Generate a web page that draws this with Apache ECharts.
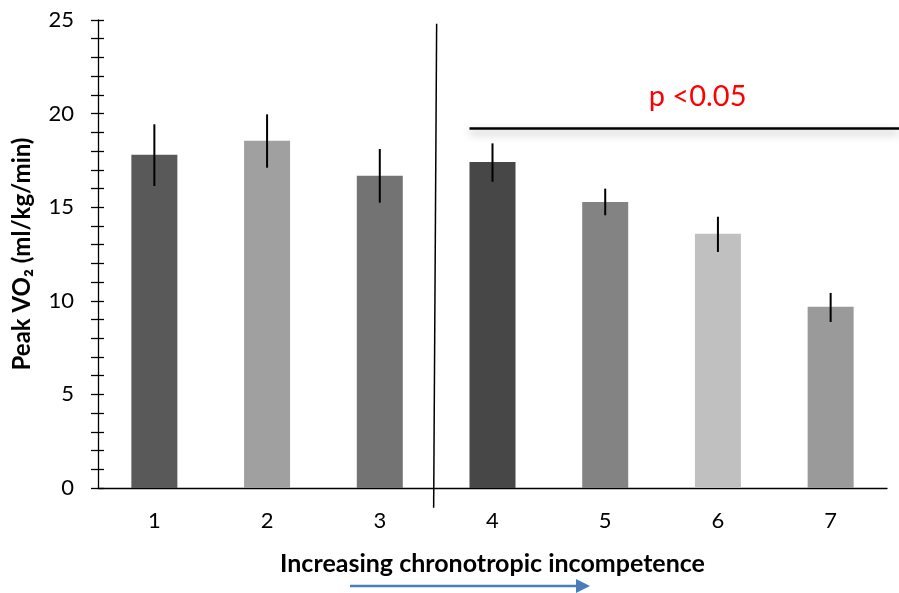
<!DOCTYPE html>
<html><head><meta charset="utf-8">
<script src="https://cdn.jsdelivr.net/npm/echarts@6/dist/echarts.min.js"></script>
<style>html,body{margin:0;padding:0;background:#fff}#c{width:899px;height:593px}</style>
</head><body><div id="c"></div>
<script>
var categories = ['1','2','3','4','5','6','7'];
var peakVO2 = [17.8, 18.55, 16.68, 17.42, 15.28, 13.58, 9.68];
var errLow = [16.13, 17.11, 15.24, 16.36, 14.57, 12.61, 8.87];
var errHigh = [19.43, 19.96, 18.11, 18.41, 15.99, 14.49, 10.42];
var barColors = ['#595959', '#a0a0a0', '#737373', '#474747', '#838383', '#c0c0c0', '#9a9a9a'];
var yTicks = [0, 5, 10, 15, 20, 25];
var pText = 'p <0.05';
var pLineValue = 19.2;
var dividerTop = 24.8, dividerBottom = -1.05;

var FONT = 'Lato, "Open Sans", sans-serif';
var chart = echarts.init(document.getElementById('c'));
var tickStyle = {color:'#000', width:1.3};
var option = {
  animation:false,
  grid:{left:98, right:12, top:20, bottom:105},
  xAxis:[{
    type:'category', data:categories, position:'bottom',
    axisLine:{lineStyle:{color:'#000', width:1.3}},
    axisTick:{alignWithLabel:true, length:6, inside:false, lineStyle:tickStyle},
    axisLabel:{color:'#000', fontSize:22, fontFamily:FONT, margin:22},
    name:'Increasing chronotropic incompetence', nameLocation:'middle', nameGap:63,
    nameTextStyle:{color:'#000', fontSize:25, fontWeight:'bold', fontFamily:FONT}
  },{
    type:'category', data:categories, position:'bottom', gridIndex:0,
    axisLine:{show:false},
    axisTick:{alignWithLabel:true, length:6, inside:true, lineStyle:tickStyle},
    axisLabel:{show:false}
  },{
    type:'category', data:categories, position:'bottom', gridIndex:0,
    axisLine:{show:false},
    axisTick:{alignWithLabel:false, length:7, inside:false, lineStyle:tickStyle},
    axisLabel:{show:false}
  }],
  yAxis:[{
    type:'value', min:0, max:25, interval:1,
    axisLine:{show:true, lineStyle:{color:'#000', width:1.3}},
    axisTick:{show:true, length:7, inside:false, lineStyle:tickStyle},
    axisLabel:{color:'#000', fontSize:22, fontFamily:FONT, margin:24,
      formatter:function(v){return yTicks.indexOf(v)>=0 ? String(v) : '';}},
    splitLine:{show:false},
    name:'Peak VO\u2082 (ml/kg/min)', nameLocation:'middle', nameGap:64, nameRotate:90,
    nameTextStyle:{color:'#000', fontSize:24, fontWeight:'bold', fontFamily:FONT}
  },{
    type:'value', min:0, max:25, interval:1, position:'left',
    axisLine:{show:false},
    axisTick:{show:true, length:6, inside:true, lineStyle:tickStyle},
    axisLabel:{show:false}, splitLine:{show:false}
  }],
  series:[{
    type:'bar', barWidth:46, xAxisIndex:0, yAxisIndex:0,
    data:peakVO2.map(function(v,i){return {value:v, itemStyle:{color:barColors[i]}};})
  },{
    type:'custom', xAxisIndex:0, yAxisIndex:0, z:5,
    data:categories.map(function(c,i){return [i, errLow[i], errHigh[i]];}),
    renderItem:function(params, api){
      var p1 = api.coord([api.value(0), api.value(1)]);
      var p2 = api.coord([api.value(0), api.value(2)]);
      return {type:'line', shape:{x1:p1[0], y1:p1[1], x2:p2[0], y2:p2[1]}, style:{stroke:'#000', lineWidth:2}};
    }
  }]
};
chart.setOption(option);

var b3 = chart.convertToPixel({xAxisIndex:0, yAxisIndex:0}, [2, 0]);
var b4 = chart.convertToPixel({xAxisIndex:0, yAxisIndex:0}, [3, 0]);
var midX = (b3[0]+b4[0])/2;
var dTop = chart.convertToPixel({yAxisIndex:0}, dividerTop);
var dBot = chart.convertToPixel({yAxisIndex:0}, dividerBottom);
var pY = chart.convertToPixel({yAxisIndex:0}, pLineValue);
var c4 = chart.convertToPixel({xAxisIndex:0, yAxisIndex:0}, [3, 0])[0];
var c7 = chart.convertToPixel({xAxisIndex:0, yAxisIndex:0}, [6, 0])[0];
var halfBar = 23;
chart.setOption({graphic:[
  {type:'line', shape:{x1:midX+0.5, y1:dTop, x2:midX-2.5, y2:dBot}, style:{stroke:'#000', lineWidth:1.5}, z:10},
  {type:'line', shape:{x1:c4-halfBar, y1:pY, x2:899, y2:pY},
   style:{stroke:'#000', lineWidth:2.5, shadowBlur:8, shadowColor:'rgba(0,0,0,0.35)', shadowOffsetY:4}, z:10},
  {type:'text', x:(c4+c7)/2 + 36, y:pY-32, style:{text:pText, fill:'#ff0000', fontSize:29, fontFamily:FONT, align:'center', verticalAlign:'middle'}, z:10},
  {type:'line', shape:{x1:350, y1:586, x2:580, y2:586}, style:{stroke:'#4a7ebb', lineWidth:2.5}, z:10},
  {type:'polygon', shape:{points:[[576,579],[590,586],[576,593]]}, style:{fill:'#4a7ebb'}, z:10}
]});
</script></body></html>
